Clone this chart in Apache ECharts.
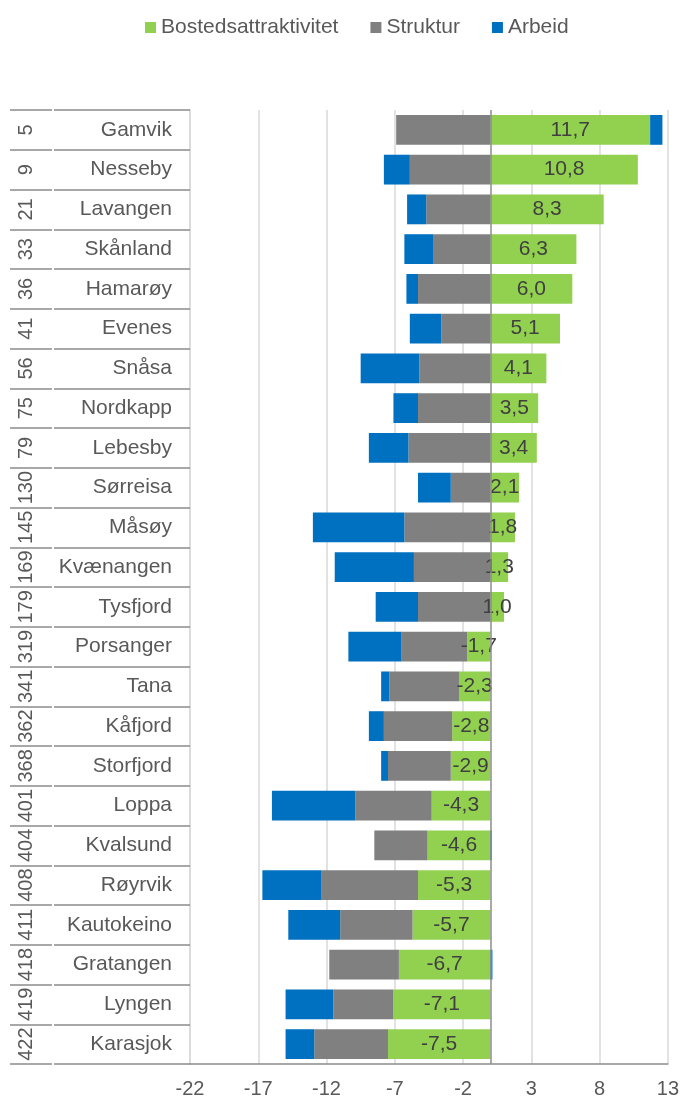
<!DOCTYPE html>
<html>
<head>
<meta charset="utf-8">
<script src="https://cdn.jsdelivr.net/npm/echarts@6/dist/echarts.min.js"></script>
<style>
html,body{margin:0;padding:0;background:#fff;}
#chart{width:682px;height:1099px;}
</style>
</head>
<body>
<div id="chart"></div>
<script>
var names = ['Gamvik','Nesseby','Lavangen','Skånland','Hamarøy','Evenes','Snåsa','Nordkapp','Lebesby','Sørreisa','Måsøy','Kvænangen','Tysfjord','Porsanger','Tana','Kåfjord','Storfjord','Loppa','Kvalsund','Røyrvik','Kautokeino','Gratangen','Lyngen','Karasjok'];
var ranks = ['5','9','21','33','36','41','56','75','79','130','145','169','179','319','341','362','368','401','404','408','411','418','419','422'];
var bosted = [11.7,10.8,8.3,6.3,6.0,5.1,4.1,3.5,3.4,2.1,1.8,1.3,1.0,-1.7,-2.3,-2.8,-2.9,-4.3,-4.6,-5.3,-5.7,-6.7,-7.1,-7.5];
var struktur = [-6.9,-5.9,-4.7,-4.2,-5.3,-3.6,-5.2,-5.3,-6.0,-2.9,-6.3,-5.6,-5.3,-4.8,-5.1,-5.0,-4.6,-5.6,-3.9,-7.1,-5.3,-5.1,-4.4,-5.4];
var arbeid = [0.9,-1.9,-1.4,-2.1,-0.85,-2.3,-4.3,-1.8,-2.9,-2.4,-6.7,-5.8,-3.1,-3.9,-0.6,-1.1,-0.5,-6.1,0.1,-4.3,-3.8,0.15,-3.5,-2.1];
var seriesNames = ['Bostedsattraktivitet','Struktur','Arbeid'];
var xTicks = {min:-22, max:13, interval:5};

var FONT = '"Liberation Sans", Arial, sans-serif';
var chart = echarts.init(document.getElementById('chart'), null, {renderer:'canvas'});
var option = {
  animation:false,
  backgroundColor:'#ffffff',
  textStyle:{fontFamily:FONT},
  legend:{
    top:12, left:140,
    itemWidth:11, itemHeight:11, itemGap:32,
    icon:'rect',
    textStyle:{fontFamily:FONT, fontSize:21, color:'#595959'},
    data:seriesNames
  },
  grid:{left:190, right:13, top:110, bottom:34, containLabel:false},
  xAxis:{
    type:'value', min:xTicks.min, max:xTicks.max, interval:xTicks.interval,
    axisLine:{show:true, onZero:false, lineStyle:{color:'#8c8c8c', width:1.5}},
    axisTick:{show:false},
    axisLabel:{fontFamily:FONT, fontSize:20, color:'#595959', margin:15},
    splitLine:{show:true, lineStyle:{color:'#d9d9d9', width:1.5}}
  },
  yAxis:[
    {
      type:'category', inverse:true, data:names, position:'left',
      axisLine:{show:true, onZero:false, lineStyle:{color:'#d9d9d9', width:1.5}},
      axisTick:{show:true, length:136, lineStyle:{color:'#8c8c8c', width:1.5}},
      axisLabel:{interval:0, fontFamily:FONT, fontSize:21, color:'#595959', margin:18}
    },
    {
      type:'category', inverse:true, data:ranks, position:'left', offset:138,
      axisLine:{show:false, onZero:false},
      axisTick:{show:true, length:42, lineStyle:{color:'#8c8c8c', width:1.5}},
      axisLabel:{interval:0, rotate:90, fontFamily:FONT, fontSize:20, color:'#595959', margin:16}
    }
  ],
  series:[
    {
      name:seriesNames[0], type:'bar', stack:'total', data:bosted,
      barCategoryGap:'25%',
      itemStyle:{color:'#92d050'},
      label:{show:true, position:'inside', fontFamily:FONT, fontSize:21, color:'#404040',
        formatter:function(p){return p.value.toFixed(1).replace('.',',');}}
    },
    {
      name:seriesNames[1], type:'bar', stack:'total', data:struktur,
      barCategoryGap:'25%',
      itemStyle:{color:'#808080'}
    },
    {
      name:seriesNames[2], type:'bar', stack:'total', data:arbeid,
      barCategoryGap:'25%',
      itemStyle:{color:'#0070c0'},
      markLine:{
        silent:true, symbol:'none', label:{show:false},
        lineStyle:{color:'#8c8c8c', width:1.5, type:'solid'},
        data:[{xAxis:0}]
      }
    }
  ]
};
chart.setOption(option);
</script>
</body>
</html>
